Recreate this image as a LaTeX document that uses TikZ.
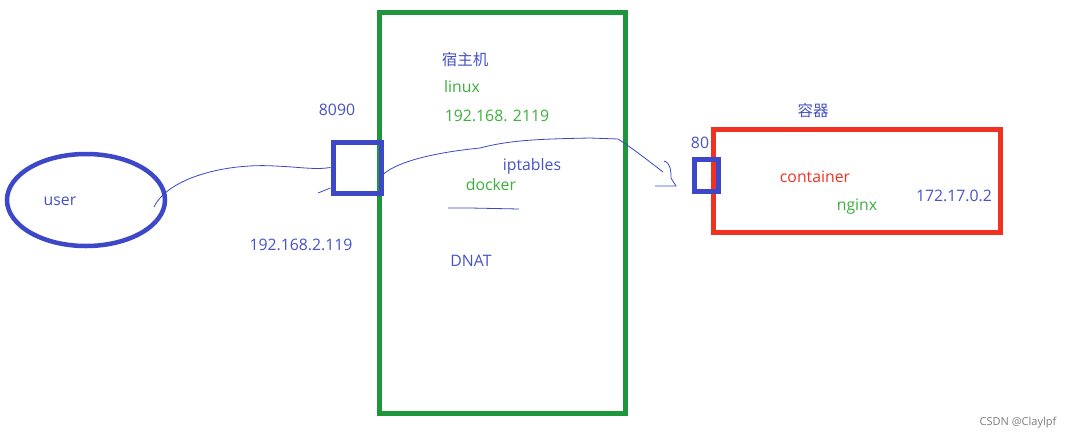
\documentclass[tikz,border=0pt]{standalone}
\usepackage{fontspec}
\setmainfont{Open Sans}
\newfontfamily\cjk{Noto Sans CJK SC}
\usepackage{tikz}
\usetikzlibrary{shapes.geometric, positioning, calc}
\definecolor{penblue}{RGB}{60, 72, 200}
\definecolor{txtblue}{RGB}{70, 82, 200}
\definecolor{hostgreen}{RGB}{30, 150, 60}
\definecolor{txtgreen}{RGB}{60, 175, 60}
\definecolor{boxred}{RGB}{240, 50, 35}
\definecolor{markgray}{RGB}{125, 125, 125}

\tikzset{
  lbl/.style={font=\fontsize{15.8}{18}\selectfont, inner sep=0pt},
  cjklbl/.style={font=\cjk\fontsize{15.5}{18}\selectfont, inner sep=0pt},
  hand/.style={penblue, line width=0.8pt},
  port/.style={draw=penblue, line width=5pt, rectangle, inner sep=0pt}
}

\begin{document}
\begin{tikzpicture}[x=1pt, y=-1pt]
  \useasboundingbox[fill=white] (0,0) rectangle (1076,440);

  % Host
  \node[draw=hostgreen, line width=5pt, minimum width=246pt, minimum height=401pt, inner sep=0pt] (host) at (502,212.5) {};
  \node[cjklbl, txtblue] (hostname) at (465,60) {宿主机};
  \node[lbl, txtgreen] (linux) at (462,87) {linux};
  \node[lbl, txtgreen] (hostip) at (497,116) {192.168. 2119};
  \node[lbl, txtblue] (iptables) at (532,166) {iptables};
  \node[lbl, txtgreen] (docker) at (491,185) {docker};
  \node[lbl, txtblue] (dnat) at (471,261) {DNAT};
  \draw[hand] (448,208) -- (470,208) -- (519,209);

  % Container
  \node[draw=boxred, line width=5pt, minimum width=287pt, minimum height=103pt, inner sep=0pt] (ctr) at (857,180.5) {};
  \node[cjklbl, txtblue] (ctrname) at (813,111) {容器};
  \node[lbl, boxred] (container) at (815,177) {container};
  \node[lbl, txtgreen] (nginx) at (857,207) {nginx};
  \node[lbl, txtblue] (ctrip) at (954,196) {172.17.0.2};

  % User
  \node[draw=penblue, line width=4.5pt, ellipse, minimum width=158pt, minimum height=92pt] (user) at (86,200) {};
  \node[lbl, txtblue] (username) at (60,201) {user};
  \node[lbl, txtblue] (userip) at (301,245) {192.168.2.119};

  % Ports
  \node[port, minimum width=48pt, minimum height=51pt] (p8090) at (357,167.5) {};
  \node[lbl, txtblue] (l8090) at (337,110) {8090};
  \node[port, minimum width=24pt, minimum height=32pt] (p80) at (706.5,175.5) {};
  \node[lbl, txtblue] (l80) at (700,143) {80};

  % Traffic
  \coordinate (tip) at (663,172);
  \draw[hand] (154,207) .. controls (168,178) and (225,163) .. (275,166)
    .. controls (300,167) and (315,170) .. (p8090.west);
  \draw[hand] (318,193) -- (p8090.west |- 0,188);
  \draw[hand] (p8090.east |- 0,174) .. controls (400,160) and (440,152) .. (480,148)
    .. controls (510,140) and (540,139) .. (590,138)
    -- (618,139) .. controls (635,150) and (650,162) .. (tip);
  \draw[hand] (664,161) .. controls (671,163) and (671,172) .. (671,178)
    -- (676,186) -- (655,186);

  \node[font=\fontsize{11}{13}\selectfont, markgray, inner sep=0pt] (mark) at (1018,423) {CSDN @Claylpf};
\end{tikzpicture}
\end{document}
